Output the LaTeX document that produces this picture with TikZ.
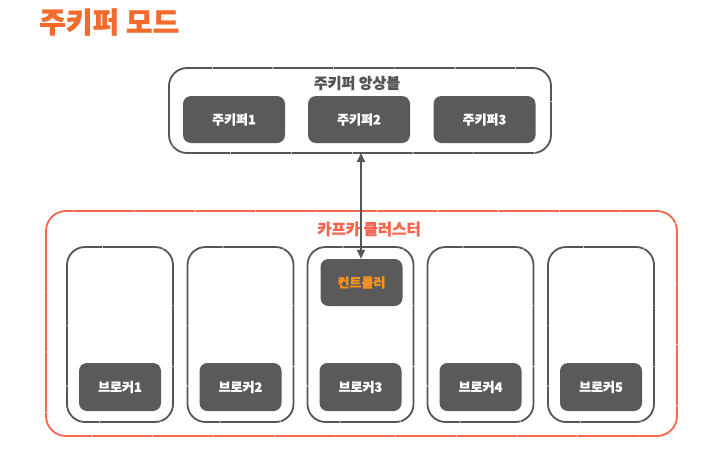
\documentclass[tikz,border=0pt]{standalone}
\usepackage{fontspec}
\setmainfont{Noto Sans CJK KR}[BoldFeatures={FakeBold=0.8}]
\usetikzlibrary{arrows.meta}
\definecolor{titleor}{HTML}{F26B2C}
\definecolor{clred}{HTML}{F7654F}
\definecolor{ctrlor}{HTML}{F7931E}
\definecolor{boxgray}{HTML}{5A5A5A}
\definecolor{edgegray}{HTML}{555555}
\tikzset{
  darkbox/.style={fill=boxgray, draw=none, rounded corners=8pt, text=white, font=\bfseries\fontsize{13}{15}\selectfont},
  sketchgray/.style={draw=edgegray, line width=1.8pt, rounded corners=18pt, dash pattern=on 60pt off 0.7pt},
  sketchred/.style={draw=clred, line width=1.8pt, rounded corners=20pt, dash pattern=on 60pt off 0.7pt},
  arr/.style={draw=edgegray, line width=1.6pt, {Triangle[length=9pt,width=8pt]}-{Triangle[length=9pt,width=8pt]}},
}
\begin{document}
\begin{tikzpicture}[x=1pt,y=-1pt]
\useasboundingbox (0,0) rectangle (709,453);
% title
\node[anchor=west, text=titleor, font=\bfseries\fontsize{29}{33}\selectfont, inner sep=0] (title) at (39,22) {주키퍼 모드};
% zookeeper ensemble
\draw[sketchgray] (169,68) rectangle (551,153);
\node[text=edgegray, font=\bfseries\fontsize{15}{17}\selectfont] (enslabel) at (357,83) {주키퍼 앙상블};
\node[darkbox, minimum width=102pt, minimum height=47pt] (zk1) at (234,119.5) {주키퍼1};
\node[darkbox, minimum width=102pt, minimum height=47pt] (zk2) at (359,119.5) {주키퍼2};
\node[darkbox, minimum width=102pt, minimum height=47pt] (zk3) at (484.5,119.5) {주키퍼3};
\coordinate (enstop) at (361,153);
% kafka cluster
\draw[sketchred] (46,211) rectangle (677,436);
\node[text=clred, font=\bfseries\fontsize{15.5}{17}\selectfont] (cllabel) at (369,229) {카프카 클러스터};
% brokers
\foreach \i/\x in {1/120,2/240.5,3/360.5,4/480.5,5/601}{
  \draw[sketchgray] (\x-53,247) rectangle (\x+53,422);
  \node[darkbox, minimum width=82pt, minimum height=48pt] (b\i) at (\x,387) {브로커\i};
}
\node[darkbox, minimum width=82pt, minimum height=47pt, text=ctrlor] (ctrl) at (361.5,282.5) {컨트롤러};
\draw[arr] (enstop) -- (ctrl.north -| enstop);
\end{tikzpicture}
\end{document}
